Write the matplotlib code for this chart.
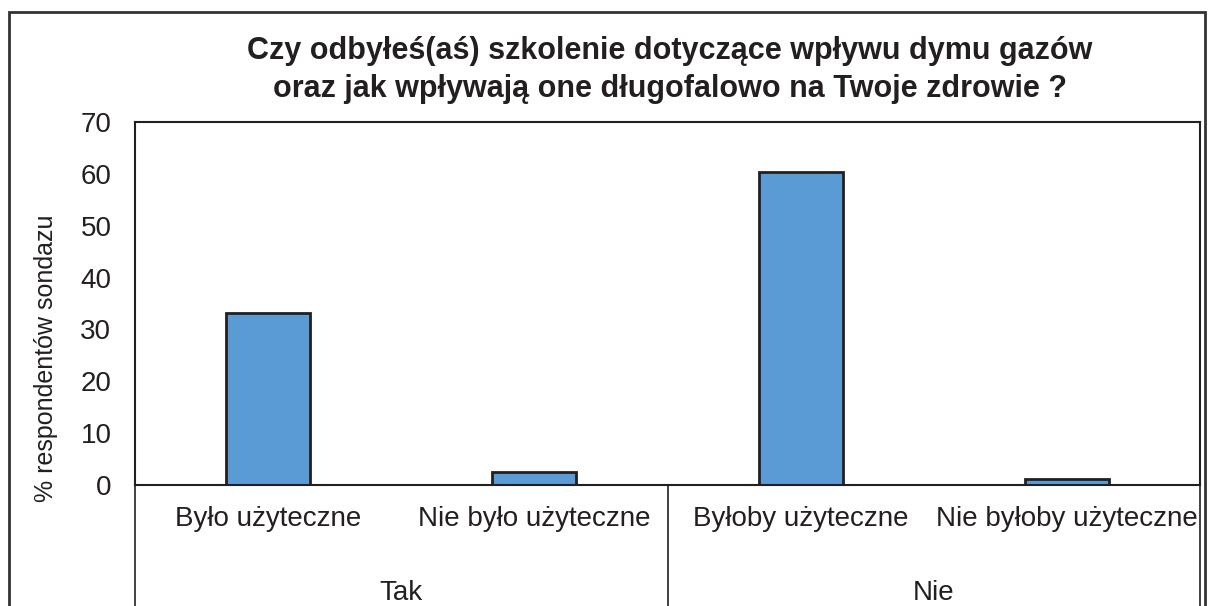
import matplotlib.pyplot as plt
from matplotlib.patches import Rectangle

plt.rcParams['font.family'] = ['Liberation Sans', 'DejaVu Sans']

categories = ["Było użyteczne", "Nie było użyteczne", "Byłoby użyteczne", "Nie byłoby użyteczne"]
groups = ["Tak", "Nie"]
values = [33.1, 2.5, 60.4, 1.2]
yticks = [0, 10, 20, 30, 40, 50, 60, 70]

fig = plt.figure(figsize=(12.14, 6.06), dpi=100)
ax = fig.add_axes([135/1214, 1 - 485/606, (1200 - 135)/1214, (485 - 122)/606])

x = list(range(len(categories)))
ax.bar(x, values, width=0.315, color="#5b9bd5", edgecolor="#231f20", linewidth=2)

ax.set_xlim(-0.5, 3.5)
ax.set_ylim(0, 70)
ax.set_yticks(yticks)
ax.tick_params(axis="y", length=0, labelsize=20, pad=17, colors="#231f20")
ax.set_xticks(x)
ax.set_xticklabels(categories)
ax.tick_params(axis="x", length=0, labelsize=20, pad=15, colors="#231f20")
ax.set_ylabel("% respondentów sondazu", fontsize=18, color="#231f20")
ax.yaxis.set_label_coords(-77/1065, 0.35)
for s in ax.spines.values():
    s.set_linewidth(1.5)
    s.set_color("#231f20")

# group separators below the axis
for xv in [-0.5, 1.5, 3.5]:
    ax.plot([xv, xv], [0, -0.4], transform=ax.get_xaxis_transform(), clip_on=False,
            color="#231f20", linewidth=1.2)
for i, g in enumerate(groups):
    ax.text(2 * i + 0.5, -0.298, g, transform=ax.get_xaxis_transform(),
            ha="center", va="center", fontsize=20, color="#231f20")

fig.text(670/1214, 1 - 70/606,
         "Czy odbyłeś(aś) szkolenie dotyczące wpływu dymu gazów\noraz jak wpływają one długofalowo na Twoje zdrowie ?",
         ha="center", va="center", fontsize=22, fontweight="bold", color="#231f20", linespacing=1.38)

# outer chart frame
fig.patches.append(Rectangle((9/1214, -0.1), (1205 - 9)/1214, 1.1 - 12/606,
                             transform=fig.transFigure, fill=False, edgecolor="#333333", linewidth=2))

fig.savefig("out.png", dpi=100)
